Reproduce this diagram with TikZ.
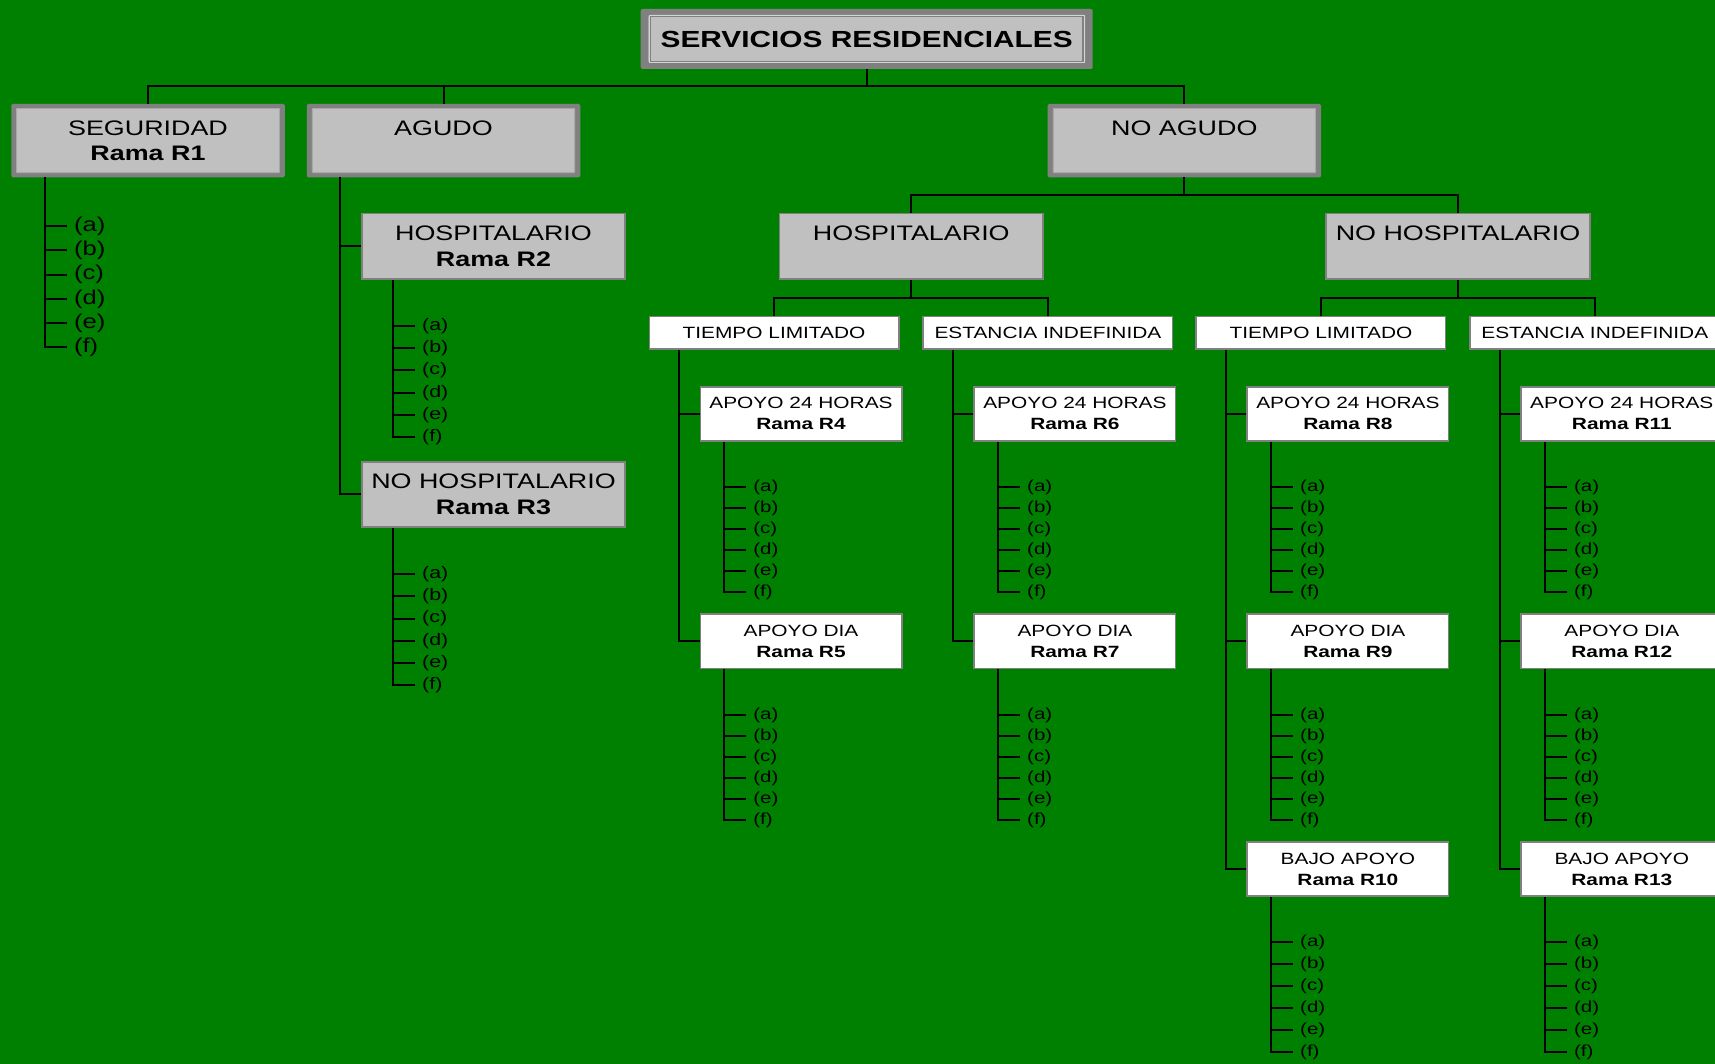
\documentclass[tikz,border=0pt]{standalone}
\usepackage{fontspec}
\setmainfont{Liberation Sans}[FakeStretch=1.28]
\usetikzlibrary{calc}

\definecolor{field}{RGB}{0,128,0}
\definecolor{panel}{RGB}{192,192,192}
\definecolor{rim}{RGB}{128,128,128}
\definecolor{rimlight}{RGB}{168,168,168}
\definecolor{sheen}{RGB}{212,212,212}

\tikzset{
  wire/.style={draw=black, line width=2pt, line join=miter},
  % grey panel with a heavier frame on the left/right than on top/bottom
  framed/.style n args={2}{fill=rim, inner sep=0pt, outer sep=0pt,
    path picture={\fill[panel]
      ($(path picture bounding box.south west)+(#1,-#2)$) rectangle
      ($(path picture bounding box.north east)+(-#1,#2)$);}},
  titlebox/.style={framed={7.7}{6}, rounded corners=2pt,
    minimum width=452pt, minimum height=60pt,
    font=\bfseries\fontsize{23.3}{28}\selectfont},
  topbox/.style={framed={5.2}{4.3}, rounded corners=1.5pt,
    minimum width=273.5pt, minimum height=73.5pt, align=center,
    font=\fontsize{21}{25.7}\selectfont},
  midbox/.style={fill=panel, draw=rim, line width=1.8pt, inner sep=0pt,
    minimum width=263.6pt, minimum height=65.5pt, align=center,
    font=\fontsize{21}{26.7}\selectfont},
  stagebox/.style={fill=white, draw=rim, line width=1.8pt, inner sep=0pt,
    minimum width=249.2pt, minimum height=32.5pt,
    font=\fontsize{16.3}{20}\selectfont},
  carebox/.style={fill=white, draw=rim, line width=1.8pt, inner sep=0pt,
    minimum width=201.2pt, minimum height=54.2pt, align=center,
    font=\fontsize{16.3}{21}\selectfont},
  leaf/.style={anchor=west, inner xsep=7.5pt, inner ysep=0pt, outer sep=0pt},
}

% leaf list (a)-(f) hanging below a box:
% #1 box, #2 spine offset from the box's left edge, #3 drop to first leaf,
% #4 leaf pitch, #5 font size
\newcommand\leaflist[5]{%
  \coordinate (#1-spine) at ($(#1.south west)+(#2,0)$);
  \foreach \lbl [count=\idx from 0] in {a,b,c,d,e,f}{
    \node[leaf, font=\fontsize{#5}{#5}\selectfont] (#1-\lbl)
      at ($(#1-spine)+(22,#3+\idx*#4)$) {(\lbl)};
    \draw[wire] (#1-\lbl.west) -- ++(-22,0);
  }
  \draw[wire] (#1-spine) |- (#1-f.west);
}

\begin{document}
\begin{tikzpicture}[x=1pt,y=-1pt]
\useasboundingbox (0,0) rectangle (1715,1064);
\fill[field] (0,0) rectangle (1715,1064);
\clip (0,0) rectangle (1715,1064);

% ---- title ----
\node[titlebox] (T) at (866.7,39) {SERVICIOS RESIDENCIALES};
\draw[sheen, line width=1.2pt] ($(T.south west)+(8.4,-6.6)$) rectangle ($(T.north east)+(-8.4,6.6)$);
\draw[rim, line width=1.3pt] ($(T.south west)+(9.7,-7.7)$) rectangle ($(T.north east)+(-9.7,7.7)$);

% ---- first level ----
\node[topbox] (SEG)  at (148,140.7)   {SEGURIDAD\\\textbf{Rama R1}};
\node[topbox] (AG)   at (443.5,140.7) {AGUDO\\\phantom{R}};
\node[topbox] (NOAG) at (1184.3,140.7){NO AGUDO\\\phantom{R}};
\foreach \b in {SEG,AG,NOAG}
  \draw[rimlight, line width=1pt] ($(\b.south west)+(5.7,-4.8)$) rectangle ($(\b.north east)+(-5.7,4.8)$);

% ---- second level ----
\node[midbox] (R2)     at (493.5,246.3) {HOSPITALARIO\\\textbf{Rama R2}};
\node[midbox] (R3)     at (493.5,494.4) {NO HOSPITALARIO\\\textbf{Rama R3}};
\node[midbox] (HOSP)   at (911.3,246.3) {HOSPITALARIO\\\phantom{R}};
\node[midbox] (NOHOSP) at (1458,246.3)  {NO HOSPITALARIO\\\phantom{R}};

% ---- third level ----
\node[stagebox] (TL1) at (774,332.85)    {TIEMPO LIMITADO};
\node[stagebox] (EI1) at (1047.9,332.85) {ESTANCIA INDEFINIDA};
\node[stagebox] (TL2) at (1320.9,332.85) {TIEMPO LIMITADO};
\node[stagebox] (EI2) at (1594.8,332.85) {ESTANCIA INDEFINIDA};

% ---- fourth level ----
\node[carebox] (R4)  at (801,413.7)    {APOYO 24 HORAS\\\textbf{Rama R4}};
\node[carebox] (R5)  at (801,641.3)    {APOYO DIA\\\textbf{Rama R5}};
\node[carebox] (R6)  at (1074.9,413.7) {APOYO 24 HORAS\\\textbf{Rama R6}};
\node[carebox] (R7)  at (1074.9,641.3) {APOYO DIA\\\textbf{Rama R7}};
\node[carebox] (R8)  at (1347.9,413.7) {APOYO 24 HORAS\\\textbf{Rama R8}};
\node[carebox] (R9)  at (1347.9,641.3) {APOYO DIA\\\textbf{Rama R9}};
\node[carebox] (R10) at (1347.9,869)   {BAJO APOYO\\\textbf{Rama R10}};
\node[carebox] (R11) at (1621.8,413.7) {APOYO 24 HORAS\\\textbf{Rama R11}};
\node[carebox] (R12) at (1621.8,641.3) {APOYO DIA\\\textbf{Rama R12}};
\node[carebox] (R13) at (1621.8,869)   {BAJO APOYO\\\textbf{Rama R13}};

% ---- tree connectors ----
\coordinate (bus1) at (866.7,86.3);
\draw[wire] (T.south) -- (bus1);
\draw[wire] (SEG.north) |- (bus1) -| (NOAG.north);
\draw[wire] (AG.north) -- (AG.north |- bus1);

\coordinate (AG-spine) at ($(AG.south west)+(33,0)$);
\draw[wire] (AG-spine) |- (R3.west);
\draw[wire] (AG-spine |- R2.west) -- (R2.west);

\path (NOAG.south) ++(0,17.6) coordinate (bus2);
\draw[wire] (NOAG.south) -- (bus2);
\draw[wire] (HOSP.north) |- (bus2) -| (NOHOSP.north);

\path (HOSP.south) ++(0,17.7) coordinate (bus3);
\draw[wire] (HOSP.south) -- (bus3);
\draw[wire] (TL1.north) |- (bus3) -| (EI1.north);

\path (NOHOSP.south) ++(0,17.7) coordinate (bus4);
\draw[wire] (NOHOSP.south) -- (bus4);
\draw[wire] (TL2.north) |- (bus4) -| (EI2.north);

\coordinate (TL1-spine) at ($(TL1.south west)+(30.5,0)$);
\draw[wire] (TL1-spine) |- (R5.west);
\draw[wire] (TL1-spine |- R4.west) -- (R4.west);

\coordinate (EI1-spine) at ($(EI1.south west)+(30.5,0)$);
\draw[wire] (EI1-spine) |- (R7.west);
\draw[wire] (EI1-spine |- R6.west) -- (R6.west);

\coordinate (TL2-spine) at ($(TL2.south west)+(30.5,0)$);
\draw[wire] (TL2-spine) |- (R10.west);
\draw[wire] (TL2-spine |- R8.west) -- (R8.west);
\draw[wire] (TL2-spine |- R9.west) -- (R9.west);

\coordinate (EI2-spine) at ($(EI2.south west)+(30.5,0)$);
\draw[wire] (EI2-spine) |- (R13.west);
\draw[wire] (EI2-spine |- R11.west) -- (R11.west);
\draw[wire] (EI2-spine |- R12.west) -- (R12.west);

% ---- leaf lists ----
\leaflist{SEG}{33.3}{48.7}{24.26}{20}
\leaflist{R2}{31.9}{46}{22.26}{16.7}
\leaflist{R3}{31.9}{46}{22.26}{16.7}
\foreach \r in {R4,R5,R6,R7,R8,R9,R11,R12}{\leaflist{\r}{24.3}{45.6}{21}{16}}
\leaflist{R10}{24.3}{45.4}{22}{16}
\leaflist{R13}{24.3}{45.4}{22}{16}
\end{tikzpicture}
\end{document}
